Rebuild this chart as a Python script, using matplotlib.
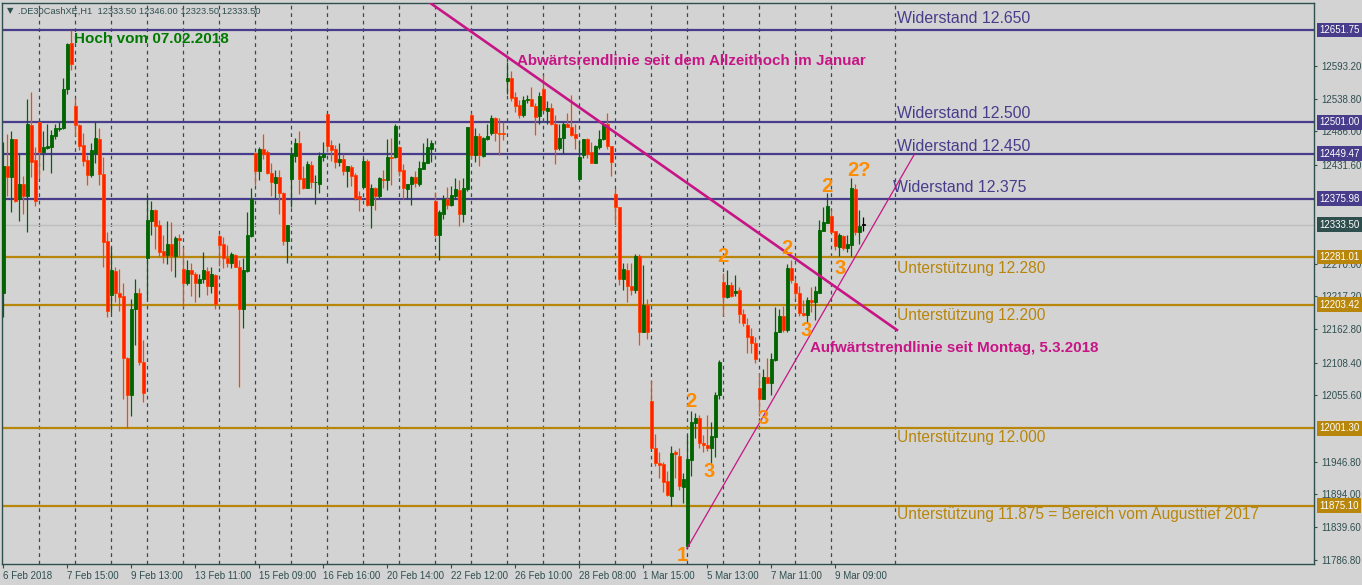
import numpy as np
import matplotlib.pyplot as plt
from matplotlib import transforms

opens = [
    12222, 12430, 12412, 12474, 12375, 12401, 12381, 12497, 12439,
    12501, 12453, 12459, 12461, 12479, 12490, 12491, 12556, 12630,
    12528, 12496, 12464, 12440, 12415, 12451, 12474, 12416, 12307,
    12219, 12258, 12223, 12217, 12117, 12056, 12196, 12222, 12110,
    12280, 12340, 12358, 12333, 12291, 12284, 12302, 12283, 12312,
    12261, 12239, 12260, 12254, 12239, 12245, 12258, 12233, 12252,
    12315, 12302, 12279, 12271, 12284, 12264, 12196, 12258, 12315,
    12451, 12422, 12457, 12452, 12419, 12402, 12412, 12385, 12308,
    12408, 12446, 12468, 12410, 12394, 12431, 12403, 12401, 12445,
    12515, 12464, 12457, 12437, 12441, 12422, 12428, 12415, 12380,
    12396, 12438, 12366, 12393, 12380, 12408, 12406, 12445, 12445,
    12461, 12423, 12392, 12401, 12411, 12401, 12425, 12435, 12457,
    12372, 12317, 12352, 12375, 12366, 12381, 12390, 12352, 12392,
    12513, 12448, 12479, 12446, 12474, 12483, 12508, 12484, 12484,
    12569, 12573, 12542, 12529, 12513, 12538, 12539, 12528, 12511,
    12555, 12520, 12524, 12499, 12459, 12475, 12499, 12493, 12482,
    12408, 12447, 12473, 12452, 12435, 12460, 12473, 12498, 12462,
    12384, 12362, 12246, 12260, 12234, 12227, 12282, 12159, 12203,
    12046, 11969, 11945, 11943, 11916, 11891, 11962, 11957, 11906,
    11809, 11949, 12010, 12018, 11978, 11974, 11969, 11988, 12056,
    12240, 12215, 12235, 12222, 12227, 12188, 12170, 12152, 12141,
    12067, 12050, 12086, 12076, 12113, 12159, 12184, 12162, 12263,
    12239, 12223, 12190, 12187, 12211, 12208, 12223, 12324, 12337,
    12348, 12324, 12297, 12315, 12296, 12301, 12392, 12322, 12333.5,
]
highs = [
    12469, 12482, 12487, 12474, 12449, 12413, 12539, 12550, 12461,
    12501, 12487, 12499, 12488, 12498, 12502, 12574, 12631, 12652,
    12540, 12498, 12483, 12448, 12467, 12502, 12491, 12445, 12322,
    12297, 12264, 12261, 12239, 12118, 12212, 12246, 12230, 12145,
    12383, 12373, 12360, 12342, 12317, 12340, 12338, 12315, 12319,
    12298, 12277, 12271, 12256, 12254, 12289, 12264, 12264, 12253,
    12319, 12313, 12300, 12289, 12286, 12276, 12279, 12354, 12393,
    12453, 12460, 12482, 12455, 12435, 12423, 12423, 12388, 12333,
    12461, 12476, 12486, 12430, 12438, 12438, 12415, 12453, 12469,
    12515, 12472, 12464, 12468, 12449, 12430, 12431, 12418, 12389,
    12442, 12441, 12400, 12396, 12411, 12423, 12473, 12475, 12498,
    12462, 12433, 12400, 12413, 12422, 12438, 12468, 12476, 12472,
    12388, 12358, 12382, 12396, 12397, 12410, 12407, 12410, 12494,
    12517, 12491, 12484, 12477, 12499, 12513, 12510, 12508, 12502,
    12600, 12584, 12551, 12538, 12544, 12546, 12559, 12532, 12551,
    12578, 12535, 12533, 12513, 12498, 12501, 12516, 12546, 12498,
    12472, 12473, 12475, 12469, 12464, 12489, 12499, 12517, 12462,
    12392, 12362, 12272, 12271, 12272, 12286, 12286, 12268, 12212,
    12080, 11992, 11962, 11947, 11931, 11972, 11966, 11969, 11929,
    11991, 12029, 12027, 12023, 11991, 12023, 12011, 12061, 12113,
    12255, 12260, 12241, 12252, 12232, 12196, 12181, 12165, 12150,
    12091, 12099, 12117, 12124, 12200, 12197, 12201, 12270, 12277,
    12246, 12233, 12211, 12216, 12232, 12233, 12342, 12363, 12385,
    12358, 12324, 12321, 12317, 12317, 12410, 12401, 12358, 12346,
]
lows = [
    12183, 12380, 12355, 12371, 12340, 12351, 12322, 12412, 12365,
    12410, 12423, 12457, 12419, 12473, 12487, 12490, 12547, 12586,
    12478, 12456, 12430, 12399, 12412, 12434, 12399, 12264, 12183,
    12190, 12207, 12193, 12050, 12002, 12022, 12137, 12105, 12045,
    12212, 12317, 12294, 12282, 12271, 12270, 12259, 12249, 12282,
    12200, 12236, 12218, 12208, 12216, 12239, 12219, 12222, 12196,
    12267, 12263, 12264, 12263, 12264, 12069, 12166, 12257, 12314,
    12399, 12407, 12441, 12417, 12380, 12377, 12352, 12300, 12272,
    12363, 12437, 12384, 12392, 12393, 12394, 12368, 12386, 12438,
    12453, 12438, 12426, 12430, 12415, 12396, 12397, 12374, 12357,
    12396, 12364, 12329, 12358, 12378, 12393, 12390, 12399, 12442,
    12413, 12375, 12375, 12366, 12396, 12397, 12424, 12434, 12437,
    12313, 12277, 12343, 12359, 12365, 12375, 12332, 12339, 12389,
    12441, 12437, 12429, 12444, 12472, 12480, 12471, 12448, 12472,
    12547, 12535, 12518, 12508, 12510, 12532, 12527, 12480, 12499,
    12521, 12499, 12497, 12433, 12456, 12450, 12493, 12479, 12457,
    12408, 12442, 12442, 12435, 12434, 12457, 12472, 12457, 12414,
    12336, 12235, 12227, 12207, 12219, 12222, 12138, 12158, 12148,
    11969, 11940, 11920, 11898, 11891, 11874, 11920, 11901, 11880,
    11806, 11924, 11985, 11969, 11963, 11965, 11945, 11955, 12049,
    12185, 12214, 12216, 12218, 12173, 12169, 12124, 12124, 12108,
    12021, 12049, 12075, 12056, 12112, 12158, 12159, 12158, 12238,
    12214, 12184, 12185, 12174, 12192, 12178, 12223, 12324, 12337,
    12322, 12293, 12282, 12293, 12290, 12283, 12317, 12303, 12323.5,
]
closes = [
    12430, 12412, 12474, 12373, 12401, 12381, 12498, 12437, 12373,
    12453, 12461, 12463, 12480, 12492, 12492, 12556, 12629, 12597,
    12496, 12462, 12438, 12415, 12455, 12475, 12416, 12306, 12193,
    12260, 12223, 12216, 12116, 12056, 12196, 12223, 12109, 12059,
    12342, 12358, 12332, 12290, 12283, 12302, 12283, 12312, 12309,
    12239, 12260, 12254, 12238, 12245, 12260, 12233, 12253, 12205,
    12300, 12280, 12271, 12286, 12265, 12196, 12260, 12317, 12376,
    12422, 12457, 12449, 12419, 12403, 12411, 12385, 12308, 12333,
    12450, 12468, 12408, 12394, 12433, 12403, 12404, 12446, 12450,
    12463, 12456, 12437, 12441, 12422, 12430, 12414, 12378, 12376,
    12438, 12366, 12394, 12380, 12410, 12406, 12444, 12443, 12495,
    12422, 12393, 12400, 12411, 12402, 12426, 12437, 12460, 12468,
    12317, 12355, 12375, 12366, 12382, 12392, 12352, 12393, 12493,
    12448, 12479, 12448, 12475, 12478, 12508, 12484, 12482, 12482,
    12573, 12540, 12528, 12513, 12538, 12539, 12528, 12510, 12544,
    12521, 12524, 12498, 12457, 12475, 12499, 12493, 12480, 12475,
    12445, 12473, 12450, 12435, 12462, 12474, 12498, 12462, 12436,
    12362, 12246, 12261, 12233, 12227, 12282, 12159, 12203, 12158,
    11969, 11944, 11942, 11914, 11893, 11961, 11960, 11907, 11918,
    11951, 12011, 12018, 11977, 11974, 11969, 11989, 12056, 12109,
    12215, 12235, 12218, 12226, 12188, 12173, 12151, 12140, 12114,
    12049, 12086, 12076, 12114, 12159, 12184, 12162, 12263, 12243,
    12223, 12189, 12186, 12211, 12208, 12225, 12325, 12339, 12364,
    12322, 12299, 12317, 12295, 12302, 12393, 12322, 12332, 12333.5,
]

date_labels = ['6 Feb 2018', '7 Feb 15:00', '9 Feb 13:00', '13 Feb 11:00', '15 Feb 09:00',
               '16 Feb 16:00', '20 Feb 14:00', '22 Feb 12:00', '26 Feb 10:00', '28 Feb 08:00',
               '1 Mar 15:00', '5 Mar 13:00', '7 Mar 11:00', '9 Mar 09:00']
# Skalenwerte rechts (die unter den farbigen Kursmarken verdeckten weggelassen)
price_ticks = [12593.20, 12538.80, 12486.00, 12431.60, 12270.00, 12217.20, 12162.80,
               12108.40, 12055.60, 11946.80, 11894.00, 11839.60, 11786.80]

resist_levels = [12651.75, 12501.00, 12449.47, 12375.98]
resist_names = ['Widerstand 12.650', 'Widerstand 12.500', 'Widerstand 12.450', 'Widerstand 12.375']
support_levels = [12281.01, 12203.42, 12001.30, 11875.10]
support_names = ['Unterstützung 12.280', 'Unterstützung 12.200', 'Unterstützung 12.000',
                 'Unterstützung 11.875 = Bereich vom Augusttief 2017']
last_price = 12333.50

# Trendlinien (Kerzenindex, Kurs)
down_trend = ([106.7, 223.4], [12696, 12162])
up_trend = ([170.9, 227.7], [11805, 12448])

# Wellenzählung
wave_text = ['1', '2', '3', '2', '3', '2', '3', '2', '3', '2?']
wave_x = [169.8, 172.0, 176.5, 179.8, 189.9, 196.0, 200.8, 206.0, 209.2, 213.8]
wave_y = [11794, 12046, 11931, 12282, 12017, 12295, 12161, 12397, 12263, 12423]

PURPLE = '#483D8B'
GOLD = '#B8860B'
MAGENTA = '#C71585'
DARK = '#2F4F4F'
BG = '#D3D3D3'

plt.rcParams['font.family'] = ['Liberation Sans', 'DejaVu Sans']

fig = plt.figure(figsize=(13.62, 5.85), dpi=100, facecolor=BG)
ax = fig.add_axes([2.3 / 1362, 21 / 585, 1311.7 / 1362, 561.5 / 585], facecolor=BG)

o = np.array(opens, float)
h = np.array(highs, float)
l = np.array(lows, float)
c = np.array(closes, float)
x = np.arange(len(o))

body_col = np.where(c > o, '#006400', np.where(c < o, '#FF2000', '#000000'))
wick_col = np.where(c > o, '#006400', np.where(c < o, '#FF4500', '#000000'))

# Tagestrenner
for d in list(range(9, len(o), 9)) + [223]:
    ax.axvline(d, color=DARK, lw=0.9, ls=(0, (3, 3)), zorder=1)

ax.axhline(last_price, color='#BEBEBE', lw=1, zorder=1)
for lv in resist_levels:
    ax.axhline(lv, color=PURPLE, lw=1.6, zorder=2)
for lv in support_levels:
    ax.axhline(lv, color=GOLD, lw=1.6, zorder=2)

ax.vlines(x, l, h, colors=wick_col, lw=0.9, zorder=3)
body_h = np.maximum(np.abs(c - o), 1.2)
ax.bar(x, body_h, bottom=np.minimum(o, c), width=0.72, color=body_col,
       edgecolor=wick_col, lw=0.6, zorder=4)

ax.plot(*down_trend, color=MAGENTA, lw=1.9, zorder=5)
ax.plot(*up_trend, color=MAGENTA, lw=0.9, zorder=5)

ax.set_xlim(-0.25, 327.675)
ax.set_ylim(11779.9, 12696.6)

# Beschriftungen
for name, yy in zip(resist_names, [12670, 12515, 12462, 12394]):
    xx = 222.4 if name.endswith('375') else 223.4
    ax.text(xx, yy, name, color=PURPLE, fontsize=11.4, va='center', ha='left', zorder=6)
for name, yy in zip(support_names, [12263, 12186, 11986, 11860]):
    ax.text(223.4, yy, name, color=GOLD, fontsize=11.2, va='center', ha='left', zorder=6)

ax.text(17.7, 12637, 'Hoch vom 07.02.2018', color='#007A00', fontsize=11,
        fontweight='bold', va='center', ha='left', zorder=6)
ax.text(128.4, 12601, 'Abwärtsrendlinie seit dem Allzeithoch im Januar', color=MAGENTA,
        fontsize=10.9, fontweight='bold', va='center', ha='left', zorder=6)
ax.text(201.7, 12133, 'Aufwärtstrendlinie seit Montag, 5.3.2018', color=MAGENTA,
        fontsize=10.9, fontweight='bold', va='center', ha='left', zorder=6)

for t, wx, wy in zip(wave_text, wave_x, wave_y):
    ax.text(wx, wy, t, color='#FF8C00', fontsize=14.5, fontweight='bold',
            ha='center', va='center', zorder=7)

# Kopfzeile
ax.text(0.0035, 0.985, '▼', transform=ax.transAxes, fontsize=6, color=DARK,
        va='center', ha='left', family='DejaVu Sans')
ax.text(0.012, 0.985, '.DE30CashXE,H1  12333.50 12346.00 12323.50 12333.50',
        transform=ax.transAxes, fontsize=6.7, color=DARK, va='center', ha='left')

# Achsen
ax.yaxis.tick_right()
ax.set_yticks(price_ticks)
ax.set_yticklabels([f'{p:.2f}' for p in price_ticks])
ax.tick_params(axis='y', direction='out', length=2.5, width=0.8, color=DARK,
               labelcolor=DARK, labelsize=7, pad=2.5)
ax.set_xticks(np.arange(len(date_labels)) * 16)
ax.set_xticklabels(date_labels, ha='left')
ax.tick_params(axis='x', direction='out', length=3, width=0.8, color=DARK,
               labelcolor=DARK, labelsize=7, pad=2)
for sp in ax.spines.values():
    sp.set_color(DARK)
    sp.set_linewidth(1)

trans = transforms.blended_transform_factory(ax.transAxes, ax.transData)
boxes = [(lv, PURPLE) for lv in resist_levels] + [(last_price, DARK)] + \
        [(lv, GOLD) for lv in support_levels]
for lv, col in boxes:
    ax.text(1 + 5 / 1311.7, lv, f'{lv:.2f}', transform=trans, fontsize=7, color='white',
            va='center', ha='left', clip_on=False, zorder=20,
            bbox=dict(boxstyle='square,pad=0.25', fc=col, ec='none'))

fig.savefig('out.png', dpi=100, facecolor=BG)
